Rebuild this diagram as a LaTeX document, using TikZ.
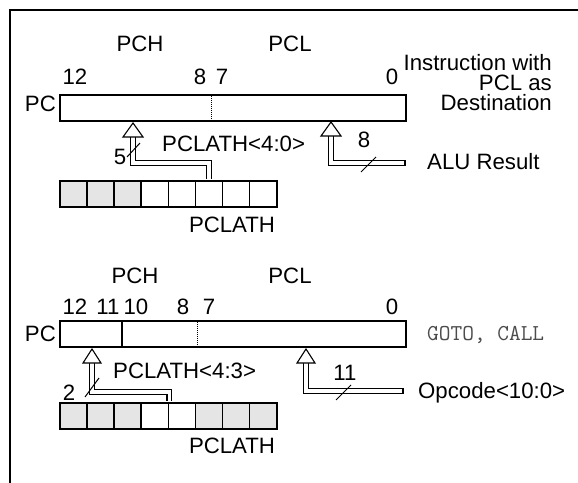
\documentclass[tikz,border=0pt]{standalone}
\usepackage{fontspec}
\setmainfont{Liberation Sans}
\begin{document}
\begin{tikzpicture}[x=1bp,y=-1bp,
    every node/.style={inner sep=0pt,font=\fontsize{22.3}{20.5}\selectfont},
    reg/.style={draw,line width=1.8bp,anchor=north west,minimum height=26bp},
    cell/.style={draw,line width=1.6bp,anchor=north west,minimum width=27.125bp,minimum height=26bp},
    bus/.style={double,double distance=3.2bp,line width=1.1bp},
    head/.style={draw,fill=white,line width=1.1bp},
    lbl/.style={anchor=base}]
  \useasboundingbox (0,0) rectangle (578,483);
  \draw[line width=2.4bp] (10,483) -- (10,10) -- (578,10);

  % instruction with PCL as destination
  \node[reg,minimum width=346bp] (pc1) at (59,94) {};
  \draw[densely dotted,line width=1bp] (211,94) -- (211,120);
  \node[anchor=base east] (pclab1) at (56,112) {PC};
  \node[lbl] (pch1) at (140,52) {PCH};
  \node[lbl] (pcl1) at (290,52) {PCL};
  \node[lbl] (b12a) at (75,85) {12};
  \node[lbl] (b8a) at (200,85) {8};
  \node[lbl] (b7a) at (222,85) {7};
  \node[lbl] (b0a) at (392,85) {0};
  \node[anchor=base east,align=right] (dest) at (552,111) {Instruction with\\PCL as\\Destination};
  \foreach \i/\c in {1/black!10,2/black!10,3/black!10,4/white,5/white,6/white,7/white,8/white}
    \node[cell,fill=\c] (lat1-\i) at ({59+(\i-1)*27.125},180) {};
  \node[lbl] (latname1) at (232,232) {PCLATH};
  \node[anchor=base west] (latbits1) at (162,152) {PCLATH<4:0>};
  \node[lbl] (w5) at (120,165) {5};
  \node[lbl] (w8) at (364,148) {8};
  \node[anchor=base west] (alutxt) at (427,170) {ALU Result};

  \coordinate (tip1) at (133,123);
  \coordinate (b1) at (133,137);
  \coordinate (k1) at (133,163);
  \draw[bus,shorten >=0.8bp] (b1) -- (k1) -| (lat1-6.north);
  \draw[head] (tip1) -- ++(10,14) -- ++(-20,0) -- cycle;
  \draw[line width=1bp] (127,157) -- (140,143);

  \coordinate (tip2) at (331,122);
  \coordinate (b2) at (331,136);
  \coordinate (k2) at (331,163);
  \coordinate (alu) at (405,163);
  \draw[bus] (b2) -- (k2) -- (alu);
  \draw[line width=1.1bp] ([yshift=2.7bp]alu) -- ([yshift=-2.7bp]alu);
  \draw[head] (tip2) -- ++(10,14) -- ++(-20,0) -- cycle;
  \draw[line width=1bp] (361,172) -- (376,157);

  % GOTO, CALL
  \node[reg,minimum width=346bp] (pc2) at (59,320) {};
  \draw[line width=1.8bp] (122,320) -- (122,346);
  \draw[densely dotted,line width=1bp] (197,320) -- (197,346);
  \node[anchor=base east] (pclab2) at (56,341) {PC};
  \node[lbl] (pch2) at (135,283) {PCH};
  \node[lbl] (pcl2) at (290,283) {PCL};
  \node[lbl] (b12b) at (75,314) {12};
  \node[lbl] (b11b) at (108,314) {11};
  \node[lbl] (b10b) at (136,314) {10};
  \node[lbl] (b8b) at (183,314) {8};
  \node[lbl] (b7b) at (209,314) {7};
  \node[lbl] (b0b) at (392,314) {0};
  \node[anchor=base west,font=\fontsize{22.8}{24}\ttfamily,text=black!70] (gotocall) at (427,340) {GOTO, CALL};
  \foreach \i/\c in {1/black!10,2/black!10,3/black!10,4/white,5/white,6/black!10,7/black!10,8/black!10}
    \node[cell,fill=\c] (lat2-\i) at ({59+(\i-1)*27.125},402) {};
  \node[lbl] (latname2) at (232,453) {PCLATH};
  \node[anchor=base west] (latbits2) at (113,378) {PCLATH<4:3>};
  \node[lbl] (w2) at (69,400) {2};
  \node[lbl] (w11) at (345,380) {11};
  \node[anchor=base west] (opctxt) at (418,398) {Opcode<10:0>};

  \coordinate (tip3) at (92,349);
  \coordinate (b3) at (92,363);
  \coordinate (k3) at (92,392);
  \draw[bus,shorten >=0.8bp] (b3) -- (k3) -| (lat2-4.north east);
  \draw[head] (tip3) -- ++(9,14) -- ++(-18,0) -- cycle;
  \draw[line width=1bp] (85,397) -- (99,378);

  \coordinate (tip4) at (306,349);
  \coordinate (b4) at (306,363);
  \coordinate (k4) at (306,391);
  \coordinate (opc) at (403,391);
  \draw[bus] (b4) -- (k4) -- (opc);
  \draw[line width=1.1bp] ([yshift=2.7bp]opc) -- ([yshift=-2.7bp]opc);
  \draw[head] (tip4) -- ++(9,14) -- ++(-18,0) -- cycle;
  \draw[line width=1bp] (336,400) -- (351,385);
\end{tikzpicture}
\end{document}
